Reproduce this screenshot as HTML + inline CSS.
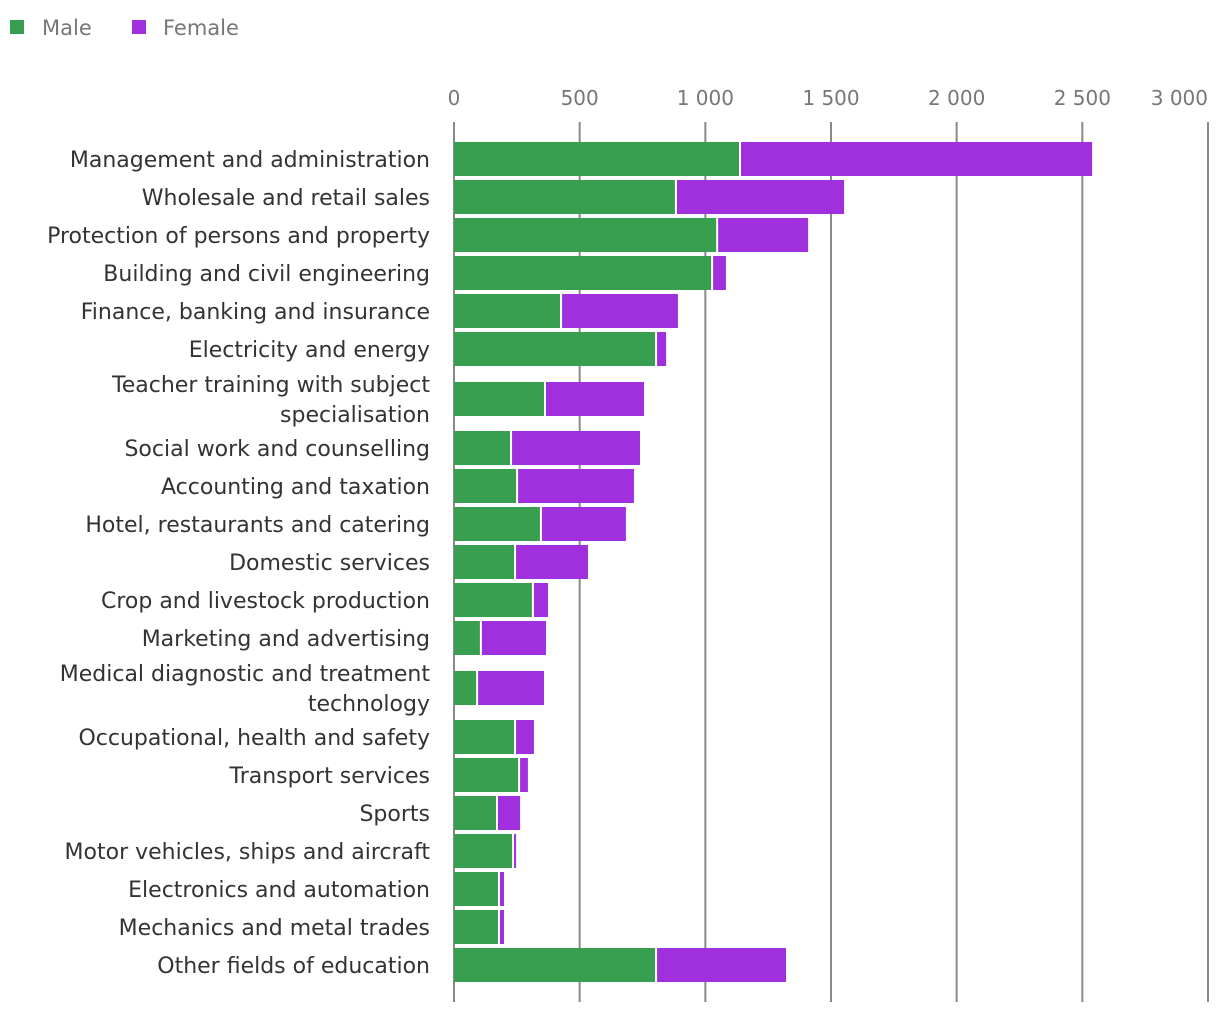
<!DOCTYPE html>
<html><head><meta charset="utf-8"><style>
body{margin:0;background:#fff;font-family:"DejaVu Sans","Liberation Sans",sans-serif;}
svg text{font-family:"DejaVu Sans","Liberation Sans",sans-serif;}
</style></head><body>
<svg id="chart" width="1220" height="1014" xmlns="http://www.w3.org/2000/svg">
<g>
<rect x="10" y="20" width="14" height="14" fill="#389f50"/>
<text x="42" y="35" font-size="21" fill="#777">Male</text>
<rect x="132" y="20" width="14" height="14" fill="#a02fde"/>
<text x="163" y="35" font-size="21" fill="#777">Female</text>
</g>
<g id="grid"></g><g id="bars"></g><g id="labels"></g>
</svg>
<script>
const categories=[["Management and administration"],["Wholesale and retail sales"],["Protection of persons and property"],["Building and civil engineering"],["Finance, banking and insurance"],["Electricity and energy"],["Teacher training with subject","specialisation"],["Social work and counselling"],["Accounting and taxation"],["Hotel, restaurants and catering"],["Domestic services"],["Crop and livestock production"],["Marketing and advertising"],["Medical diagnostic and treatment","technology"],["Occupational, health and safety"],["Transport services"],["Sports"],["Motor vehicles, ships and aircraft"],["Electronics and automation"],["Mechanics and metal trades"],["Other fields of education"]];
const maleValues=[1138,883,1047,1027,426,804,362,227,251,346,243,314,107,92,243,259,171,235,179,179,804];
const femaleValues=[1401,669,362,55,465,40,394,513,465,338,290,60,259,266,75,35,92,12,20,20,517];
const tickValues=[0,500,1000,1500,2000,2500,3000];
const tickLabels=["0","500","1 000","1 500","2 000","2 500","3 000"];
const NS="http://www.w3.org/2000/svg";
const x0=454,pxPer=(1208-454)/3000;
function xs(v){return x0+v*pxPer;}
function mk(tag,attrs,parent){const e=document.createElementNS(NS,tag);for(const k in attrs)e.setAttribute(k,attrs[k]);parent.appendChild(e);return e;}
const grid=document.getElementById('grid'),bars=document.getElementById('bars'),labels=document.getElementById('labels');
tickValues.forEach((t,i)=>{
 const l=mk('line',{x1:xs(t),x2:xs(t),y1:122,y2:1002,stroke:'#8a8a8a','stroke-width':2},grid);
 
 
 const last=i===tickValues.length-1;
 const tx=mk('text',{x:xs(t),y:105,'text-anchor':last?'end':'middle','font-size':20,fill:'#777'},grid);
 tx.textContent=tickLabels[i];
 
 
});
let y=142;
categories.forEach((c,i)=>{
 const two=c.length>1;
 const top=two?y+12:y;
 const m=mk('rect',{x:xs(0),y:top,width:Math.max(0,xs(maleValues[i])-xs(0)-1),height:34,fill:'#389f50'},bars);
 
 
 const f=mk('rect',{x:xs(maleValues[i])+1,y:top,width:Math.max(0,xs(maleValues[i]+femaleValues[i])-xs(maleValues[i])-1),height:34,fill:'#a02fde'},bars);
 
 
 const cy=top+17;
 c.forEach((line,j)=>{
  const t=mk('text',{x:430,y:(two?cy-15+j*30:cy)+8,'text-anchor':'end','font-size':22,fill:'#333'},labels);
  t.textContent=line;
  
  
 });
 y+=two?61:38;
});
</script>
</body></html>
